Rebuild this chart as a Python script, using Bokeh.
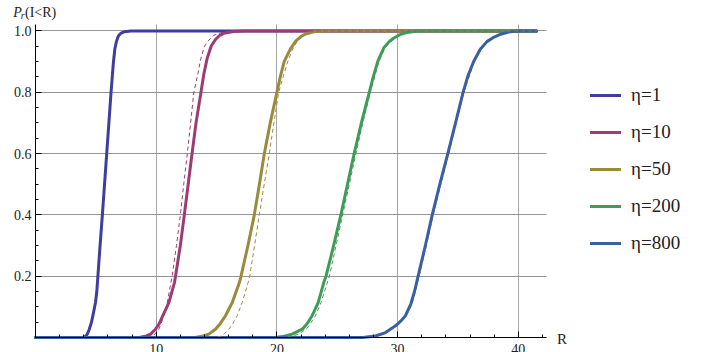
from bokeh.plotting import figure
from bokeh.models import Range1d, FixedTicker, Legend, LegendItem, Label, PrintfTickFormatter
from bokeh.embed import file_html
from bokeh.resources import INLINE

# ---- data ----
ETA_LABELS = ["η=1", "η=10", "η=50", "η=200", "η=800"]
COLORS = ["#3f3d9e", "#9b3c72", "#9c8a3c", "#3f9c58", "#3c5ea3"]

# solid curves (R, P)
R1 = [0, 4.0, 4.15, 4.3, 4.45, 4.64, 4.8, 4.97, 5.08, 5.17, 5.35, 5.54, 5.72, 5.9, 6.08, 6.26,
      6.36, 6.46, 6.57, 6.7, 6.85, 7.05, 7.35, 7.9, 41.5]
P1 = [0, 0, 0.004, 0.012, 0.026, 0.05, 0.08, 0.114, 0.15, 0.2, 0.3, 0.4, 0.5, 0.6, 0.7, 0.8,
      0.85, 0.9, 0.94, 0.965, 0.982, 0.992, 0.997, 1.0, 1.0]

R10 = [0, 8.6, 9.2, 9.53, 9.94, 10.25, 10.55, 11.05, 11.52, 11.6, 12.0, 12.33, 12.65, 12.97,
       13.3, 13.71, 13.95, 14.22, 14.55, 14.91, 15.25, 15.6, 16.4, 17.3, 41.5]
P10 = [0, 0, 0.005, 0.011, 0.027, 0.045, 0.071, 0.114, 0.18, 0.2, 0.3, 0.4, 0.5, 0.6,
       0.7, 0.8, 0.86, 0.91, 0.95, 0.972, 0.985, 0.992, 0.998, 1.0, 1.0]

R50 = [0, 13.2, 13.8, 14.36, 14.91, 15.3, 15.74, 16.3, 16.9, 17.03, 17.6, 18.13, 18.55, 18.96,
       19.45, 20.0, 20.25, 20.6, 21.1, 21.54, 22.0, 22.37, 23.06, 23.9, 41.5]
P50 = [0, 0, 0.004, 0.011, 0.027, 0.045, 0.071, 0.114, 0.18, 0.2, 0.3, 0.4, 0.5, 0.6,
       0.7, 0.8, 0.845, 0.9, 0.94, 0.966, 0.982, 0.99, 0.997, 1.0, 1.0]

R200 = [0, 19.9, 20.6, 21.27, 22.1, 22.5, 22.92, 23.42, 23.89, 24.07, 24.7, 25.3, 25.85, 26.4,
        27.0, 27.66, 27.95, 28.35, 28.86, 29.3, 29.69, 30.2, 30.8, 31.5, 32.2, 41.5]
P200 = [0, 0, 0.004, 0.011, 0.027, 0.045, 0.071, 0.114, 0.18, 0.2, 0.3, 0.4, 0.5, 0.6,
        0.7, 0.8, 0.845, 0.9, 0.945, 0.965, 0.977, 0.988, 0.995, 0.999, 1.0, 1.0]

R800 = [0, 27.1, 28.17, 29.0, 29.83, 30.3, 30.65, 31.1, 31.4, 31.7, 32.3, 32.87, 33.5, 34.16,
        34.8, 35.43, 35.8, 36.3, 36.85, 37.4, 38.0, 38.6, 39.2, 39.7, 40.2, 41.5]
P800 = [0, 0, 0.005, 0.016, 0.038, 0.055, 0.071, 0.11, 0.15, 0.2, 0.3, 0.4, 0.5, 0.6,
        0.7, 0.8, 0.85, 0.9, 0.94, 0.965, 0.98, 0.99, 0.996, 0.999, 1.0, 1.0]

# dashed curves (R, P)
RD10 = [0, 9.4, 9.8, 10.2, 10.5, 10.85, 11.32, 11.68, 12.0, 12.28, 12.58, 12.85, 13.12, 13.45,
        13.7, 14.0, 14.36, 14.75, 15.05, 15.6, 16.5, 41.5]
PD10 = [0, 0, 0.008, 0.025, 0.055, 0.1, 0.2, 0.3, 0.4, 0.5, 0.6, 0.7, 0.8, 0.86,
        0.91, 0.95, 0.97, 0.985, 0.99, 0.997, 1.0, 1.0]

RD50 = [0, 14.9, 15.47, 16.02, 16.35, 16.71, 17.12, 17.62, 17.75, 18.15, 18.54, 18.95, 19.37,
        19.75, 20.15, 20.44, 20.9, 21.3, 21.68, 22.2, 22.8, 23.6, 41.5]
PD50 = [0, 0, 0.005, 0.027, 0.045, 0.071, 0.114, 0.18, 0.2, 0.3, 0.4, 0.5, 0.6,
        0.7, 0.8, 0.84, 0.9, 0.94, 0.966, 0.985, 0.995, 1.0, 1.0]

RD200 = [0, 20.6, 21.2, 21.82, 22.5, 23.2, 23.65, 24.35, 24.9, 25.45, 26.0, 26.55, 27.12,
         27.74, 28.45, 28.95, 29.75, 30.8, 32.0, 41.5]
PD200 = [0, 0, 0.004, 0.011, 0.03, 0.071, 0.114, 0.2, 0.3, 0.4, 0.5, 0.6, 0.7,
         0.8, 0.9, 0.945, 0.977, 0.995, 1.0, 1.0]

RD800 = [0, 27.3, 28.3, 29.1, 29.9, 30.72, 31.2, 31.78, 32.38, 32.95, 33.58, 34.23, 34.86,
         35.48, 36.35, 36.9, 37.45, 38.05, 39.2, 40.2, 41.5]
PD800 = [0, 0, 0.005, 0.016, 0.038, 0.071, 0.11, 0.2, 0.3, 0.4, 0.5, 0.6, 0.7,
         0.8, 0.9, 0.94, 0.965, 0.98, 0.996, 1.0, 1.0]

X_TICKS = [10, 20, 30, 40]
X_MINOR = [2, 4, 6, 8, 12, 14, 16, 18, 22, 24, 26, 28, 32, 34, 36, 38, 42]
Y_TICKS = [0.2, 0.4, 0.6, 0.8, 1.0]
Y_MINOR = [0.05, 0.1, 0.15, 0.25, 0.3, 0.35, 0.45, 0.5, 0.55, 0.65, 0.7, 0.75,
           0.85, 0.9, 0.95]

SERIF = "Liberation Serif"
TXT = "#222222"

# whole canvas is the plot frame; axes are pinned at 0
W, H = 710, 352
X0_PX, Y0_PX = 35.0, 337.0          # screen position of data origin
PX_X, PX_Y = 12.07, 306.6           # pixels per data unit
X_END, Y_END = 42.3, 1.0209         # axis extents

p = figure(width=W, height=H,
           x_range=Range1d(-X0_PX / PX_X, (W - X0_PX) / PX_X),
           y_range=Range1d(-(H - Y0_PX) / PX_Y, Y0_PX / PX_Y),
           output_backend="svg", toolbar_location=None, min_border=0)
p.outline_line_color = None
p.background_fill_color = "white"

for ax, ticks, minor, bnd in ((p.xaxis[0], X_TICKS, X_MINOR, (0, X_END)),
                              (p.yaxis[0], Y_TICKS, Y_MINOR, (0, Y_END))):
    ax.ticker = FixedTicker(ticks=ticks, minor_ticks=minor)
    ax.fixed_location = 0
    ax.bounds = bnd
    ax.axis_line_color = "black"
    ax.axis_line_width = 1
    ax.major_tick_in = 6
    ax.major_tick_out = 0
    ax.minor_tick_in = 3
    ax.minor_tick_out = 0
    ax.major_tick_line_color = "black"
    ax.minor_tick_line_color = "black"
    ax.major_label_text_font = SERIF
    ax.major_label_text_font_size = "14px"
    ax.major_label_text_color = TXT

p.yaxis.formatter = PrintfTickFormatter(format="%.1f")
p.xaxis.major_label_standoff = 6
p.yaxis.major_label_standoff = 4

xg, yg = p.xgrid[0], p.ygrid[0]
xg.grid_line_color = "#a6a6a6"
yg.grid_line_color = "#949494"
if "cross_bounds" in xg.properties():
    xg.cross_bounds = (0, Y_END)
    yg.cross_bounds = (0, X_END)

solids = [(R1, P1), (R10, P10), (R50, P50), (R200, P200), (R800, P800)]
dashed = [(RD10, PD10), (RD50, PD50), (RD200, PD200), (RD800, PD800)]

items = []
for (r, pr), c, lab in zip(solids, COLORS, ETA_LABELS):
    rend = p.line(r, pr, line_color=c, line_width=3, line_join="round", line_cap="round")
    items.append(LegendItem(label=lab, renderers=[rend]))

for (r, pr), c in zip(dashed, COLORS[1:]):
    p.line(r, pr, line_color=c, line_width=1, line_dash="4 3")

legend = Legend(items=items, location=(590, 98), padding=0, margin=0,
                glyph_width=31, glyph_height=22, label_height=22, spacing=15,
                label_standoff=10, label_text_font=SERIF, label_text_font_size="19px",
                label_text_color=TXT, border_line_color=None,
                background_fill_alpha=0)
p.add_layout(legend)

# axis titles
p.add_layout(Label(x=-1.85, y=1.060, text="P", text_font=SERIF, text_font_style="italic",
                   text_font_size="14px", text_color=TXT, text_baseline="alphabetic"))
p.add_layout(Label(x=-1.22, y=1.050, text="r", text_font=SERIF, text_font_style="italic",
                   text_font_size="10px", text_color=TXT, text_baseline="alphabetic"))
p.add_layout(Label(x=-0.87, y=1.060, text="(I<R)", text_font=SERIF,
                   text_font_size="14px", text_color=TXT, text_baseline="alphabetic"))
p.add_layout(Label(x=43.2, y=-0.0065, text="R", text_font=SERIF,
                   text_font_size="15px", text_color=TXT, text_baseline="middle"))

open("out.html", "w").write(file_html(p, INLINE))
